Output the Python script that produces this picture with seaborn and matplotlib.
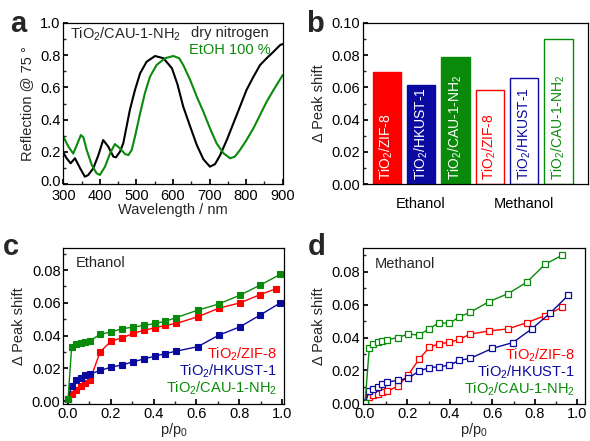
import pandas as pd
import seaborn as sns
import matplotlib.pyplot as plt
from matplotlib.ticker import MultipleLocator
from matplotlib.transforms import ScaledTranslation

# ---- data ----
# (a) reflection spectra of TiO2/CAU-1-NH2
wl_dry = [300, 309, 320, 332, 346, 359, 368, 382, 396, 409, 423, 437, 444, 455, 464, 473,
          482, 496, 510, 528, 551, 574, 597, 612, 628, 647, 665, 683, 701, 715, 729, 747,
          765, 783, 801, 820, 838, 856, 875, 893, 900]
r_dry = [0.196, 0.161, 0.130, 0.161, 0.099, 0.047, 0.057, 0.099, 0.181, 0.274, 0.233, 0.171,
         0.167, 0.202, 0.254, 0.357, 0.46, 0.584, 0.687, 0.759, 0.794, 0.78, 0.718, 0.62,
         0.48, 0.357, 0.243, 0.155, 0.109, 0.125, 0.181, 0.274, 0.377, 0.48, 0.584, 0.666,
         0.738, 0.78, 0.821, 0.862, 0.868]
wl_etoh = [300, 314, 327, 337, 348, 355, 364, 378, 391, 400, 414, 428, 441, 455, 469, 478,
           487, 496, 510, 523, 537, 555, 578, 601, 617, 628, 647, 665, 683, 701, 719, 738,
           756, 769, 783, 801, 820, 838, 856, 875, 900]
r_etoh = [0.295, 0.233, 0.19, 0.243, 0.305, 0.29, 0.212, 0.119, 0.068, 0.058, 0.109, 0.192,
          0.249, 0.222, 0.187, 0.181, 0.212, 0.295, 0.439, 0.563, 0.666, 0.738, 0.78, 0.794,
          0.78, 0.738, 0.645, 0.542, 0.449, 0.347, 0.254, 0.192, 0.161, 0.171, 0.212, 0.274,
          0.347, 0.429, 0.511, 0.584, 0.676]
refl_ticks = [0.0, 0.2, 0.4, 0.6, 0.8, 1.0]

# (b) peak shift at saturation
mofs = ["TiO$_2$/ZIF-8", "TiO$_2$/HKUST-1", "TiO$_2$/CAU-1-NH$_2$"]
solvents = ["Ethanol", "Methanol"]
shift_ethanol = [0.0695, 0.0612, 0.0785]
shift_methanol = [0.0582, 0.0660, 0.0900]

# (c) ethanol isotherms
p_eth = [0.0, 0.017, 0.037, 0.059, 0.081, 0.103, 0.15, 0.201, 0.254, 0.305, 0.355, 0.407,
         0.455, 0.506, 0.606, 0.704, 0.804, 0.897, 0.992]
p_eth_zif = [0.0, 0.017, 0.037, 0.059, 0.081, 0.103, 0.15, 0.201, 0.254, 0.305, 0.355, 0.407,
             0.455, 0.506, 0.606, 0.704, 0.804, 0.897, 0.97]
eth_zif = [0.001, 0.0046, 0.0066, 0.009, 0.0113, 0.013, 0.030, 0.0366, 0.0386, 0.0414, 0.0432,
           0.0448, 0.0462, 0.0474, 0.0515, 0.0567, 0.060, 0.065, 0.0685]
eth_hkust = [0.001, 0.0094, 0.0127, 0.014, 0.0157, 0.0165, 0.0187, 0.0207, 0.0221, 0.024,
             0.0257, 0.0275, 0.029, 0.0305, 0.0332, 0.0402, 0.0454, 0.0525, 0.060]
eth_cau = [0.001, 0.0332, 0.0346, 0.0354, 0.0362, 0.0368, 0.0408, 0.0422, 0.0442, 0.0452,
           0.0462, 0.0474, 0.0488, 0.051, 0.0555, 0.0593, 0.0647, 0.0708, 0.0774]

# (d) methanol isotherms
p_meth = [0.0, 0.02, 0.039, 0.06, 0.08, 0.102, 0.154, 0.204, 0.254, 0.303, 0.35, 0.397,
          0.444, 0.495, 0.584, 0.673, 0.761, 0.848, 0.928]
p_meth_hkust = [0.0, 0.02, 0.039, 0.06, 0.08, 0.102, 0.154, 0.204, 0.254, 0.303, 0.35, 0.397,
                0.444, 0.495, 0.60, 0.696, 0.785, 0.871, 0.958]
meth_zif = [0.0, 0.004, 0.005, 0.0059, 0.0071, 0.0073, 0.0103, 0.0174, 0.0267, 0.034, 0.0363,
            0.037, 0.0389, 0.042, 0.044, 0.0452, 0.049, 0.0533, 0.0583]
meth_hkust = [0.0, 0.0075, 0.0087, 0.0101, 0.0115, 0.0128, 0.014, 0.0152, 0.0196, 0.0217,
              0.0223, 0.0231, 0.0261, 0.0273, 0.0334, 0.0369, 0.0452, 0.0547, 0.0658]
meth_cau = [0.0, 0.0336, 0.0363, 0.037, 0.0377, 0.0385, 0.040, 0.0421, 0.0415, 0.0454, 0.049,
            0.0486, 0.0525, 0.0553, 0.0618, 0.0666, 0.0735, 0.0845, 0.090]

RED, BLUE, GREEN = "#ff0000", "#0a0aa0", "#0a8a0a"
colors = [RED, BLUE, GREEN]

sns.set_theme(style="ticks", rc={
    "xtick.direction": "in", "ytick.direction": "in",
    "xtick.major.size": 3.5, "ytick.major.size": 3.5,
    "xtick.minor.size": 2, "ytick.minor.size": 2,
    "axes.linewidth": 0.9, "axes.edgecolor": "black",
})
plt.rcParams["font.family"] = ["Liberation Sans", "DejaVu Sans"]
plt.rcParams["mathtext.fontset"] = "custom"
plt.rcParams["mathtext.rm"] = "Liberation Sans"
plt.rcParams["mathtext.it"] = "Liberation Sans:italic"
plt.rcParams["mathtext.bf"] = "Liberation Sans:bold"

FS = 10.5
fig = plt.figure(figsize=(5.9, 4.41), dpi=100)
ax_a = fig.add_axes([0.1073, 0.5821, 0.3719, 0.3664])
ax_b = fig.add_axes([0.6147, 0.5821, 0.3814, 0.3664])
ax_c = fig.add_axes([0.1073, 0.0832, 0.3741, 0.3537])
ax_d = fig.add_axes([0.6147, 0.0832, 0.3768, 0.3537])

for ax in (ax_a, ax_b, ax_c, ax_d):
    ax.tick_params(labelsize=FS, colors="black", pad=2)
    for s in ax.spines.values():
        s.set_visible(True)
        s.set_color("black")

# ---- a ----
sns.lineplot(x=wl_dry, y=r_dry, ax=ax_a, color="black", linewidth=1.5, sort=False)
sns.lineplot(x=wl_etoh, y=r_etoh, ax=ax_a, color=GREEN, linewidth=1.5, sort=False)
ax_a.set_xlim(300, 900)
ax_a.set_ylim(0, 1.0)
ax_a.xaxis.set_major_locator(MultipleLocator(100))
ax_a.xaxis.set_minor_locator(MultipleLocator(50))
ax_a.set_yticks(refl_ticks)
ax_a.yaxis.set_major_formatter("{x:.1f}")
ax_a.yaxis.set_minor_locator(MultipleLocator(0.1))
ax_a.tick_params(axis="x", pad=3.5)
# lift the "0.0" label a little so it clears "300", as in the original
lbl0 = ax_a.get_yticklabels()[0]
lbl0.set_transform(lbl0.get_transform() + ScaledTranslation(0, 2.5 / 72, fig.dpi_scale_trans))
ax_a.set_xlabel("Wavelength / nm", fontsize=FS, labelpad=0)
ax_a.set_ylabel("Reflection @ 75 °", fontsize=FS, labelpad=4)
ax_a.text(0.03, 0.903, "TiO$_2$/CAU-1-NH$_2$", transform=ax_a.transAxes, fontsize=FS,
          va="baseline")
ax_a.text(0.58, 0.91, "dry nitrogen", transform=ax_a.transAxes, fontsize=FS, va="baseline")
ax_a.text(0.574, 0.806, "EtOH 100 %", transform=ax_a.transAxes, fontsize=FS,
          va="baseline", color=GREEN)

# ---- b ----
df_b = pd.DataFrame({
    "bar": [f"{s} {m}" for s in solvents for m in mofs],
    "shift": shift_ethanol + shift_methanol,
})
sns.barplot(data=df_b, x="bar", y="shift", hue="bar", palette=colors * 2, width=0.825,
            saturation=1, legend=False, ax=ax_b)
for i, patch in enumerate(ax_b.patches):
    c = colors[i % 3]
    if i < 3:
        patch.set_facecolor(c)
        patch.set_edgecolor(c)
    else:
        patch.set_facecolor("white")
        patch.set_edgecolor(c)
        patch.set_linewidth(1.0)
    ax_b.text(i, 0.0025, mofs[i % 3], rotation=90, ha="center", va="bottom", fontsize=10,
              color="white" if i < 3 else c)
ax_b.set_xlim(-0.70, 5.85)
ax_b.set_ylim(0, 0.10)
ax_b.set_xticks([1, 4])
ax_b.set_xticklabels(solvents)
ax_b.tick_params(axis="x", length=0, pad=9)
ax_b.yaxis.set_major_locator(MultipleLocator(0.02))
ax_b.yaxis.set_minor_locator(MultipleLocator(0.01))
ax_b.yaxis.set_major_formatter("{x:.2f}")
ax_b.set_xlabel("")
ax_b.set_ylabel("Δ Peak shift", fontsize=FS, labelpad=4)

# ---- c ----
for px, py, c in [(p_eth_zif, eth_zif, RED), (p_eth, eth_hkust, BLUE), (p_eth, eth_cau, GREEN)]:
    sns.lineplot(x=px, y=py, ax=ax_c, color=c, linewidth=1, marker="s", markersize=4,
                 markeredgecolor=c, markeredgewidth=0.8, sort=False)
ax_c.set_xlim(-0.022, 1.009)
ax_c.set_ylim(-0.002, 0.0933)
ax_c.text(0.058, 0.882, "Ethanol", transform=ax_c.transAxes, fontsize=FS, va="baseline")

# ---- d ----
for px, py, c in [(p_meth, meth_zif, RED), (p_meth_hkust, meth_hkust, BLUE), (p_meth, meth_cau, GREEN)]:
    sns.lineplot(x=px, y=py, ax=ax_d, color=c, linewidth=1, marker="s", markersize=4,
                 markerfacecolor="white", markeredgecolor=c, markeredgewidth=0.9, sort=False)
ax_d.set_xlim(-0.011, 1.036)
ax_d.set_ylim(-0.0006, 0.0942)
ax_d.text(0.055, 0.872, "Methanol", transform=ax_d.transAxes, fontsize=FS, va="baseline")

for ax, xr, yb in [(ax_c, 0.968, [0.295, 0.183, 0.074]), (ax_d, 0.955, [0.284, 0.177, 0.066])]:
    for m, c, y in zip(mofs, colors, yb):
        ax.text(xr, y, m, transform=ax.transAxes, ha="right", va="baseline", fontsize=FS,
                color=c)
    ax.xaxis.set_major_locator(MultipleLocator(0.2))
    ax.xaxis.set_minor_locator(MultipleLocator(0.1))
    ax.yaxis.set_major_locator(MultipleLocator(0.02))
    ax.yaxis.set_minor_locator(MultipleLocator(0.01))
    ax.yaxis.set_major_formatter("{x:.2f}")
    ax.xaxis.set_major_formatter("{x:.1f}")
    ax.set_xlabel("p/p$_0$", fontsize=FS, labelpad=0)
    ax.set_ylabel("Δ Peak shift", fontsize=FS, labelpad=4)

# panel letters
for x, y, s in [(0.017, 0.928, "a"), (0.518, 0.928, "b"), (0.005, 0.422, "c"), (0.522, 0.422, "d")]:
    fig.text(x, y, s, fontsize=21, fontweight="bold", va="baseline")

fig.savefig("out.png", dpi=100)
